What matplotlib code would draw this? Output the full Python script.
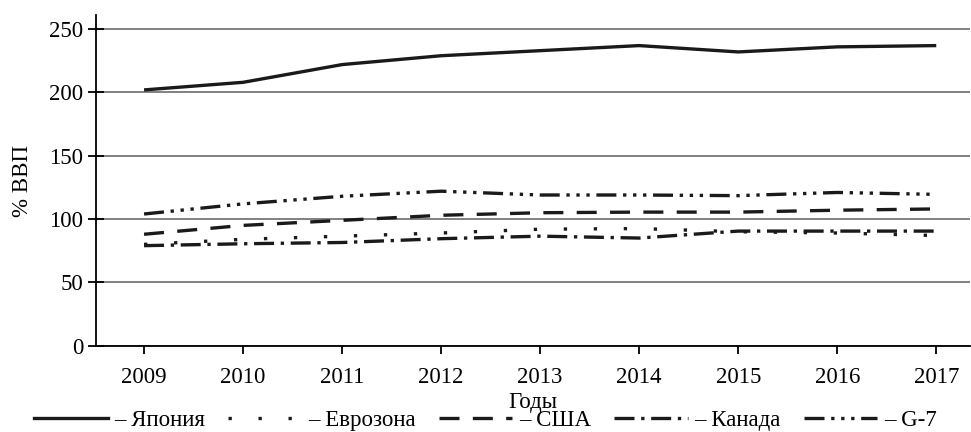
import matplotlib
matplotlib.use("Agg")
import matplotlib.pyplot as plt
from matplotlib.lines import Line2D

plt.rcParams['font.family'] = ['Liberation Serif', 'DejaVu Serif']

years = ["2009", "2010", "2011", "2012", "2013", "2014", "2015", "2016", "2017"]
japan = [202, 208, 222, 229, 233, 237, 232, 236, 237]
eurozone = [80, 84, 86.5, 89, 92, 92.5, 90, 89, 87]
usa = [88, 95, 99, 103, 105, 105.5, 105.5, 107, 108]
canada = [79, 80.5, 81.5, 84.5, 86.5, 85, 90.5, 90.5, 90.5]
g7 = [104, 112, 118, 122, 119, 119, 118.5, 121, 119.5]

labels = ["– Япония", "– Еврозона", "– США", "– Канада", "– G-7"]
styles = [
    dict(linestyle='-', lw=2.4),
    dict(linestyle=(0, (1, 8)), lw=2.4),
    dict(linestyle=(0, (6, 4)), lw=2.4),
    dict(linestyle=(0, (6, 2, 1, 2)), lw=2.4),
    dict(linestyle=(0, (6, 2, 1, 2, 1, 2, 1, 2)), lw=2.4),
]

fig = plt.figure(figsize=(9.71, 4.32), dpi=100)
ax = fig.add_axes([0.0989, 0.1998, 0.9, 0.765])
x = list(range(len(years)))
series = [japan, eurozone, usa, canada, g7]
for s, st in zip(series, styles):
    ax.plot(x, s, color='#1a1a1a', solid_capstyle='butt', dash_capstyle='butt', **st)

ax.set_xlim(-0.485, 8.34)
ax.set_ylim(0, 261)
ax.set_yticks([0, 50, 100, 150, 200, 250])
ax.set_xticks(x)
ax.set_xticklabels(years)
ax.yaxis.grid(True, color='#777777', lw=1.3)
ax.set_axisbelow(True)
for sp in ['top', 'right']:
    ax.spines[sp].set_visible(False)
ax.spines['left'].set_linewidth(1.3)
ax.spines['bottom'].set_linewidth(1.3)
ax.tick_params(axis='y', direction='inout', length=12, width=1.3, labelsize=16.5, pad=3)
ax.tick_params(axis='x', direction='out', length=6, width=1.3, labelsize=16.5, pad=9)
ax.set_xlabel("Годы", fontsize=16.5, labelpad=3)
ax.set_ylabel("% ВВП", fontsize=16.5, labelpad=12)

handles = [Line2D([], [], color='#1a1a1a', **st) for st in styles]
fig.legend(handles, labels, loc='lower center', bbox_to_anchor=(0.5, -0.035), ncol=5,
           frameon=False, fontsize=16.5, handlelength=3.2, handletextpad=0.3,
           columnspacing=1.0, borderpad=0.2)

fig.savefig("out.png", dpi=100)
